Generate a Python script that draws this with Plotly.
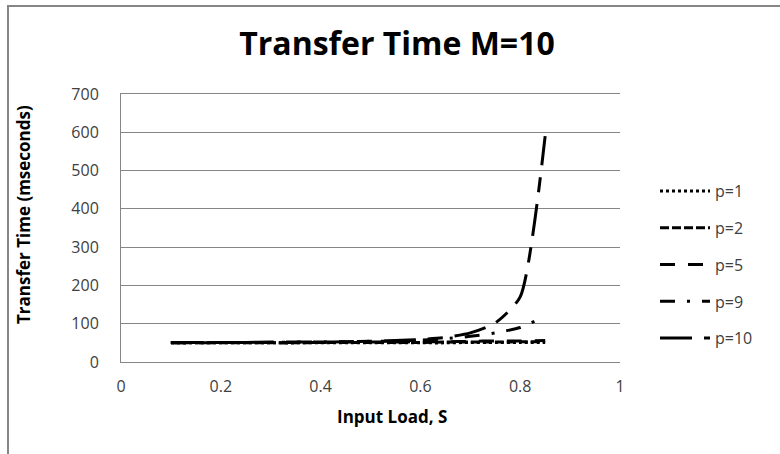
import plotly.graph_objects as go

# Input load values (S) at which transfer time was measured
load = [0.10, 0.15, 0.20, 0.25, 0.30, 0.35, 0.40, 0.45, 0.50, 0.55, 0.60, 0.65, 0.70, 0.75, 0.80, 0.85]

# Transfer time in mseconds for each p
t_p1 = [50, 50, 50, 50, 50, 50, 50, 50, 50, 50, 50, 50, 51, 51, 51, 51]
t_p2 = [50, 50, 50, 50, 50, 50, 51, 51, 51, 51, 51, 52, 52, 52, 53, 53]
t_p5 = [50, 50, 51, 51, 51, 51, 51, 52, 52, 52, 53, 53, 54, 55, 55, 56]
t_p9 = [51, 51, 51, 51, 51, 52, 52, 53, 54, 55, 57, 61, 67, 76, 90, 120]
t_p10 = [51, 51, 51, 51, 52, 52, 52, 53, 54, 56, 59, 64, 76, 102, 170, 590]

series_names = ["p=1", "p=2", "p=5", "p=9", "p=10"]
series_values = [t_p1, t_p2, t_p5, t_p9, t_p10]
series_dash = ["3px,3px", "9px,3px", "15px,13px", "15px,12px,3px,12px", "32px,12px,15px,12px"]

x_ticks = [0, 0.2, 0.4, 0.6, 0.8, 1]
y_ticks = [0, 100, 200, 300, 400, 500, 600, 700]

fig = go.Figure()
for name, vals, dash in zip(series_names, series_values, series_dash):
    fig.add_trace(go.Scatter(
        x=load, y=vals, name=name, mode="lines",
        line=dict(color="black", width=3, dash=dash, shape="spline", smoothing=0.6),
        legendgroup=name,
    ))

grid = "#868686"
L, R, T, B = 121, 620, 94, 362  # plot area edges in pixels


def px_x(px):
    return (px - L) / (R - L)


def px_y(py):
    return (B - py) / (B - T)


fig.update_layout(
    width=780, height=454,
    margin=dict(l=L, r=780 - R, t=T, b=454 - B),
    paper_bgcolor="white", plot_bgcolor="white",
    font=dict(family="Open Sans, DejaVu Sans, sans-serif", color="#404040", size=13),
    title=dict(text="<b>Transfer Time M=10</b>", x=397 / 780, xanchor="center",
               y=1 - 44 / 454, yanchor="middle",
               font=dict(family="Open Sans, sans-serif", size=32, color="black")),
    xaxis=dict(range=[0, 1], tickvals=x_ticks, ticktext=[str(v) for v in x_ticks],
               showgrid=False, zeroline=False, showline=True, mirror=True,
               linecolor=grid, linewidth=1, ticks="", ticklabelstandoff=10,
               tickfont=dict(size=16, color="#404040")),
    yaxis=dict(range=[0, 700], tickvals=y_ticks, showgrid=True, gridcolor=grid, gridwidth=1,
               zeroline=False, showline=True, linecolor=grid, linewidth=1, ticks="",
               ticklabelstandoff=18, tickfont=dict(size=16, color="#404040")),
    legend=dict(x=px_x(655), xanchor="left", y=px_y(174), yanchor="top",
                font=dict(size=16, color="#404040"), tracegroupgap=13, itemwidth=50,
                bgcolor="rgba(0,0,0,0)"),
    annotations=[
        dict(text="<b>Input Load, S</b>", xref="paper", yref="paper",
             x=px_x(392), y=px_y(416), xanchor="center", yanchor="middle",
             showarrow=False, font=dict(size=17, color="black")),
        dict(text="<b>Transfer Time (mseconds)</b>", xref="paper", yref="paper",
             x=px_x(23), y=px_y(215), xanchor="center", yanchor="middle",
             textangle=-90, showarrow=False, font=dict(size=17, color="black")),
    ],
    shapes=[dict(type="rect", xref="paper", yref="paper",
                 x0=px_x(8), x1=px_x(781), y0=px_y(470), y1=px_y(6),
                 line=dict(color="#868686", width=2), layer="below")],
)

fig.write_html("out.html")
